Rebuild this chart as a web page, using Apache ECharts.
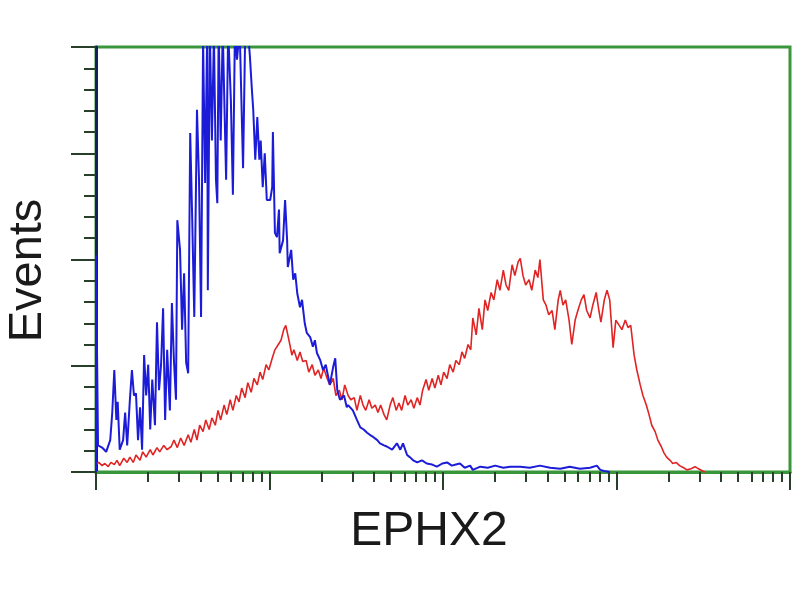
<!DOCTYPE html>
<html>
<head>
<meta charset="utf-8">
<script src="https://cdn.jsdelivr.net/npm/echarts@6/dist/echarts.min.js"></script>
<style>
html,body{margin:0;padding:0;background:#fff;}
#chart{width:800px;height:600px;}
</style>
</head>
<body>
<div id="chart"></div>
<script>
// Channels 0..1024 cover 4 log decades; counts in arbitrary units (0..400 full scale)
const decades = [0, 1, 2, 3, 4];
const channelsPerDecade = 256;
const xAxisTitle = 'EPHX2';
const yAxisTitle = 'Events';

// Isotype control (blue): [channel, count]
const controlSeries = [
[0,0],[0,204],[3,25],[9,23],[15,19],[21,30],[24,56],[27,96],[30,49],[32,66],[35,21],[40,30],[43,56],[46,25],[50,68],[53,96],[56,72],[59,74],[62,30],[65,61],[68,21],[71,110],[74,72],[77,101],[80,40],[83,87],[87,44],[90,141],[93,77],[96,101],[99,154],[102,49],[105,115],[109,58],[112,159],[115,105],[118,68],[120,237],[124,209],[127,134],[130,187],[133,103],[136,93],[139,319],[142,237],[145,146],[149,341],[152,275],[155,146],[158,407],[161,272],[164,411],[165,171],[168,416],[171,312],[174,411],[177,275],[179,253],[181,416],[184,312],[187,416],[192,275],[195,416],[199,350],[202,261],[205,416],[208,388],[212,416],[217,286],[220,407],[224,416],[227,392],[230,360],[232,341],[235,294],[238,334],[241,294],[243,312],[246,268],[249,300],[252,256],[257,256],[260,268],[261,320],[264,225],[267,221],[270,247],[271,206],[276,218],[279,256],[282,218],[283,193],[288,209],[291,181],[294,187],[297,168],[301,155],[304,162],[308,140],[311,131],[316,127],[320,118],[323,124],[326,112],[331,105],[335,96],[339,101],[345,82],[350,99],[353,107],[356,77],[360,68],[366,72],[370,61],[372,63],[379,58],[385,49],[390,42],[395,40],[400,37],[404,35],[409,33],[415,30],[419,27],[425,25],[429,24],[437,21],[444,27],[449,21],[453,27],[459,16],[463,14],[468,11],[474,9],[481,11],[488,8],[496,7],[503,5],[511,8],[518,9],[525,6],[531,7],[537,8],[544,4],[552,6],[556,2],[567,5],[578,4],[589,6],[601,4],[611,5],[626,5],[640,4],[655,6],[670,4],[685,3],[699,5],[714,3],[729,4],[739,6],[744,2],[750,1],[758,0]
];

// EPHX2-transfected cells (red): [channel, count]
const ephx2Series = [
[0,7],[4,9],[9,6],[13,8],[18,5],[22,9],[27,7],[31,11],[35,6],[41,13],[46,9],[50,14],[55,9],[59,16],[65,11],[69,19],[74,14],[80,21],[84,16],[90,23],[94,19],[100,25],[105,21],[111,24],[115,30],[120,23],[125,32],[130,25],[136,35],[140,28],[145,40],[149,30],[153,44],[158,38],[162,49],[167,40],[171,51],[176,44],[180,58],[184,49],[189,63],[193,54],[198,68],[202,58],[207,72],[211,66],[215,79],[220,70],[224,84],[229,75],[233,88],[238,82],[242,94],[246,87],[251,101],[255,96],[260,107],[264,115],[269,120],[273,124],[277,134],[280,138],[283,129],[286,120],[289,110],[292,115],[297,105],[301,113],[305,104],[310,105],[314,94],[319,101],[323,91],[328,96],[332,88],[336,98],[341,88],[345,82],[350,88],[354,72],[359,77],[363,68],[367,82],[372,72],[376,68],[381,70],[385,58],[390,72],[394,63],[398,58],[403,68],[407,60],[412,63],[416,56],[420,63],[425,54],[429,49],[434,63],[438,70],[443,58],[447,65],[451,58],[456,72],[460,63],[465,68],[469,60],[474,70],[478,63],[482,77],[487,87],[491,77],[496,88],[500,79],[505,91],[509,82],[513,94],[518,88],[522,101],[527,94],[531,105],[536,101],[540,113],[544,107],[549,120],[553,115],[556,145],[561,129],[565,154],[570,134],[574,162],[578,152],[583,169],[587,162],[592,181],[596,171],[601,190],[605,176],[609,171],[614,195],[618,185],[623,198],[626,201],[630,185],[634,176],[639,181],[643,171],[648,190],[652,183],[655,200],[660,162],[664,157],[668,148],[673,152],[677,134],[682,162],[685,171],[689,157],[693,162],[698,143],[702,120],[707,143],[711,152],[716,162],[720,167],[724,152],[729,145],[733,157],[738,169],[742,152],[745,141],[750,162],[754,171],[758,162],[763,117],[767,143],[772,138],[776,134],[781,143],[785,136],[789,138],[794,110],[798,96],[803,82],[807,72],[812,63],[816,54],[820,44],[825,38],[829,30],[834,24],[838,18],[842,14],[847,11],[851,8],[856,9],[861,6],[867,4],[872,2],[878,3],[884,5],[889,3],[895,1],[899,0]
];

// log-decade minor tick positions (2..9 within each decade)
const minorTickValues = [];
for (let d = 0; d < decades.length - 1; d++) {
  for (let k = 2; k <= 9; k++) minorTickValues.push(channelsPerDecade * (d + Math.log10(k)));
}
const xMax = channelsPerDecade * (decades.length - 1);

const frameGreen = '#3a963a';
const tickDark = '#28402a';
const font = "'Liberation Sans', Arial, sans-serif";

const chart = echarts.init(document.getElementById('chart'));
chart.setOption({
  animation: false,
  backgroundColor: '#ffffff',
  grid: {left: 96, right: 10, top: 47, bottom: 128, show: true, borderColor: frameGreen, borderWidth: 3, containLabel: false, outerBoundsMode: 'none'},
  xAxis: [
    {
      type: 'value', min: 0, max: xMax, interval: channelsPerDecade,
      name: xAxisTitle, nameLocation: 'middle', nameGap: 36,
      nameTextStyle: {fontSize: 48, color: '#1a1a1a', fontFamily: font, padding: [0, 28, 0, 0]},
      axisLine: {show: true, onZero: false, lineStyle: {color: frameGreen, width: 3}},
      axisTick: {show: true, length: 18, lineStyle: {color: tickDark, width: 2}},
      axisLabel: {show: false},
      splitLine: {show: false}
    },
    {
      type: 'value', min: 0, max: xMax, position: 'bottom',
      axisLine: {show: false},
      axisTick: {show: true, length: 10, customValues: minorTickValues, lineStyle: {color: tickDark, width: 2}},
      axisLabel: {show: false},
      splitLine: {show: false}
    }
  ],
  yAxis: {
    type: 'value', min: 0, max: 400, interval: 100,
    name: yAxisTitle, nameLocation: 'middle', nameGap: 44,
    nameTextStyle: {fontSize: 47, color: '#1a1a1a', fontFamily: font, padding: [0, 22, 0, 0]},
    axisLine: {show: true, lineStyle: {color: '#14205a', width: 3}},
    axisTick: {show: true, length: 25, lineStyle: {color: tickDark, width: 2}},
    minorTick: {show: true, splitNumber: 5, length: 12, lineStyle: {color: tickDark, width: 2}},
    axisLabel: {show: false},
    splitLine: {show: false},
    minorSplitLine: {show: false}
  },
  series: [
    {
      name: 'EPHX2', type: 'line', data: ephx2Series, showSymbol: false, clip: true,
      lineStyle: {color: '#e02424', width: 1.6}, z: 3
    },
    {
      name: 'Control', type: 'line', data: controlSeries, showSymbol: false, clip: true,
      lineStyle: {color: '#1c1cd8', width: 2}, z: 4
    }
  ]
});
</script>
</body>
</html>
